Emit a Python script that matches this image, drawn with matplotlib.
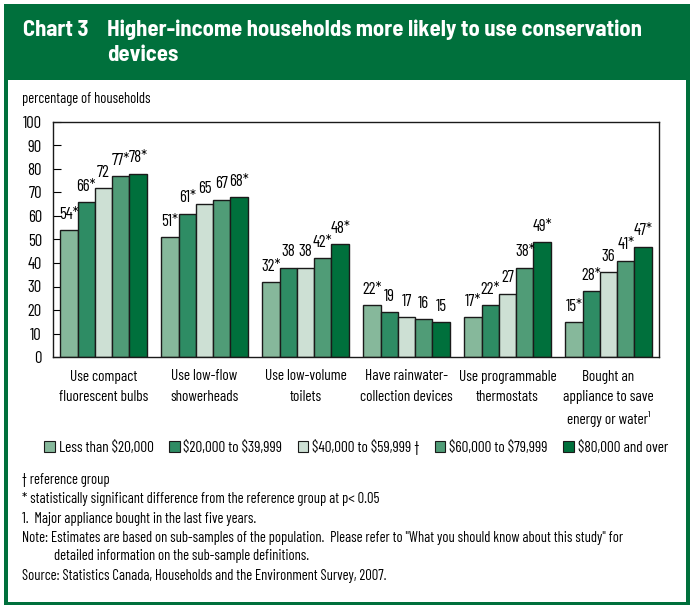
import matplotlib
matplotlib.use("Agg")
import matplotlib.pyplot as plt
from matplotlib.patches import Rectangle
import numpy as np

categories = ["Use compact\nfluorescent bulbs", "Use low-flow\nshowerheads", "Use low-volume\ntoilets",
              "Have rainwater-\ncollection devices", "Use programmable\nthermostats",
              "Bought an\nappliance to save\nenergy or water\u00b9"]
series_names = ["Less than \\$20,000", "\\$20,000 to \\$39,999", "\\$40,000 to \\$59,999 \u2020",
                "\\$60,000 to \\$79,999", "\\$80,000 and over"]
values = [
    [54, 51, 32, 22, 17, 15],
    [66, 61, 38, 19, 22, 28],
    [72, 65, 38, 17, 27, 36],
    [77, 67, 42, 16, 38, 41],
    [78, 68, 48, 15, 49, 47],
]
labels = [
    ["54*", "51*", "32*", "22*", "17*", "15*"],
    ["66*", "61*", "38", "19", "22*", "28*"],
    ["72", "65", "38", "17", "27", "36"],
    ["77*", "67", "42*", "16", "38*", "41*"],
    ["78*", "68*", "48*", "15", "49*", "47*"],
]
colors = ["#86b89b", "#2e8c64", "#cde0d4", "#509c77", "#00703c"]

FONT = ["Barlow Condensed", "DejaVu Sans"]
plt.rcParams['font.family'] = FONT

W, H = 695, 612
fig = plt.figure(figsize=(W / 100, H / 100), dpi=100)

def fx(px):
    return px / W

def fy(py):
    return 1 - py / H

green = "#00703c"
frame = fig.add_axes([0, 0, 1, 1])
frame.set_xlim(0, W)
frame.set_ylim(H, 0)
frame.axis("off")
frame.add_patch(Rectangle((4, 4), 686, 601, facecolor=green, edgecolor="none"))
frame.add_patch(Rectangle((8, 80), 678, 522, facecolor="white", edgecolor="none"))
tkw = dict(color="white", fontsize=16.3, fontweight="bold", va="baseline", ha="left",
           family=["Barlow Semi Condensed", "DejaVu Sans"])
frame.text(23, 36, "Chart 3", **tkw)
frame.text(107, 36, "Higher-income households more likely to use conservation", **tkw)
frame.text(107, 61, "devices", **tkw)
frame.text(22, 99, "percentage of households", fontsize=10.5, va="center", ha="left")

notes = [
    (22, 480, "\u2020 reference group"),
    (22, 499, "* statistically significant difference from the reference group at p< 0.05"),
    (22, 519, "1.  Major appliance bought in the last five years."),
    (22, 538, "Note: Estimates are based on sub-samples of the population.  Please refer to \"What you should know about this study\" for"),
    (54, 556, "detailed information on the sub-sample definitions."),
    (22, 576, "Source: Statistics Canada, Households and the Environment Survey, 2007."),
]
for x, y, t in notes:
    frame.text(x, y, t, fontsize=10.5, va="center", ha="left")

left, right, top, bottom = 53, 659, 122, 357
ax = fig.add_axes([fx(left), fy(bottom), fx(right - left), (bottom - top) / H])
n_groups = len(categories)
n_series = len(series_names)
bw = 0.171
x = np.arange(n_groups)
for i in range(n_series):
    xs = x + (i - (n_series - 1) / 2) * bw
    ax.bar(xs, values[i], width=bw, color=colors[i], edgecolor="#1a1a1a", linewidth=1.0,
           label=series_names[i], zorder=2)
    for xi, v, lab in zip(xs, values[i], labels[i]):
        ax.text(xi, v + 3.5, lab, ha="center", va="bottom", fontsize=12)

ax.set_xlim(-0.5, n_groups - 0.5)
ax.set_ylim(0, 100)
ax.set_yticks(np.arange(0, 101, 10))
ax.tick_params(axis="y", direction="in", length=6, labelsize=12, pad=8)
ax.set_xticks(x)
ax.set_xticklabels(categories, fontsize=11, linespacing=1.55, va="top")
ax.tick_params(axis="x", length=0, pad=9)
for s in ax.spines.values():
    s.set_linewidth(1.0)
    s.set_color("#1a1a1a")

leg = ax.legend(loc="center", bbox_to_anchor=(0.5, (bottom - 447) / (bottom - top)), ncol=5,
                frameon=False, fontsize=11, handlelength=0.7, handleheight=0.7,
                handletextpad=0.25, columnspacing=1.0, borderaxespad=0)
for h in leg.legend_handles:
    h.set_edgecolor("#1a1a1a")
    h.set_linewidth(0.8)

fig.savefig("out.png", dpi=100)
